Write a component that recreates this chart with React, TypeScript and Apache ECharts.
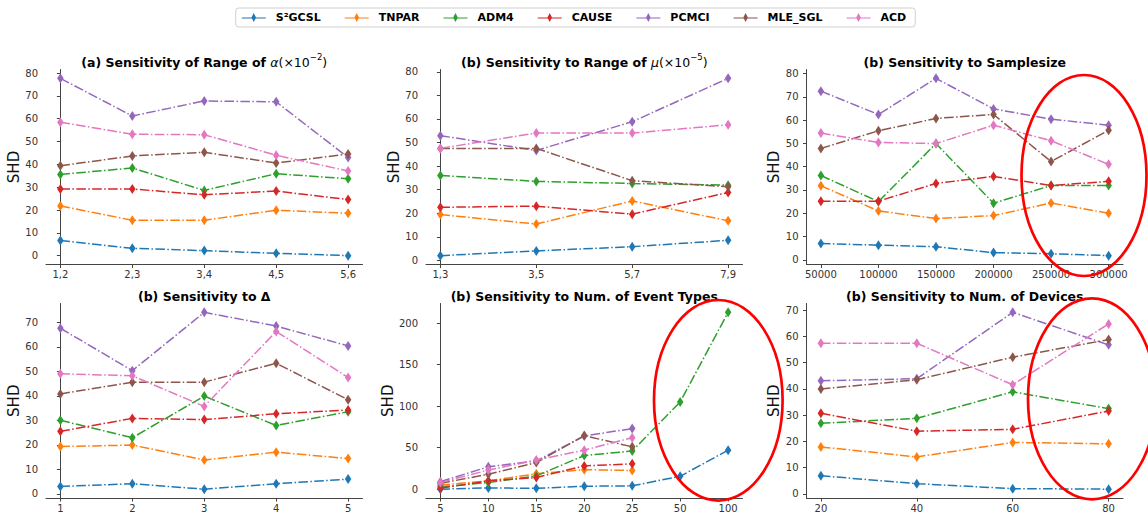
import React, { useEffect, useRef } from "react";
import * as echarts from "echarts";

const FONT = "DejaVu Sans";
const METHODS = ["S²GCSL", "TNPAR", "ADM4", "CAUSE", "PCMCI", "MLE_SGL", "ACD"];
const COLORS = ["#1f77b4", "#ff7f0e", "#2ca02c", "#d62728", "#9467bd", "#8c564b", "#e377c2"];

// (a) Range of alpha
const alphaLabels = ["1,2", "2,3", "3,4", "4,5", "5,6"];
const alphaS2GCSL = [6.6, 3.2, 2.2, 1.0, 0];
const alphaTNPAR = [21.8, 15.5, 15.5, 19.9, 18.6];
const alphaADM4 = [35.6, 38.4, 28.6, 35.9, 33.7];
const alphaCAUSE = [29.2, 29.2, 26.7, 28.3, 24.6];
const alphaPCMCI = [77.7, 61.2, 67.8, 67.4, 43.0];
const alphaMLE = [39.4, 43.7, 45.3, 40.6, 44.5];
const alphaACD = [58.5, 53.2, 53.0, 44.0, 37.1];

// (b) Range of mu
const muLabels = ["1,3", "3,5", "5,7", "7,9"];
const muS2GCSL = [2.0, 4.0, 5.8, 8.5];
const muTNPAR = [19.4, 15.4, 25.2, 16.8];
const muADM4 = [36.0, 33.5, 32.6, 31.9];
const muCAUSE = [22.5, 23.0, 19.6, 28.8];
const muPCMCI = [52.9, 46.6, 58.8, 77.2];
const muMLE = [47.5, 47.5, 33.8, 31.2];
const muACD = [47.5, 54.0, 54.0, 57.5];

// (b) Samplesize
const sampleSizes = [50000, 100000, 150000, 200000, 250000, 300000];
const ssS2GCSL = [7.0, 6.3, 5.6, 3.1, 2.6, 1.8];
const ssTNPAR = [31.8, 21.0, 17.7, 19.0, 24.4, 20.0];
const ssADM4 = [36.2, 25.0, 49.9, 24.3, 31.9, 31.9];
const ssCAUSE = [25.2, 25.2, 32.8, 35.8, 31.9, 33.7];
const ssPCMCI = [72.4, 62.4, 77.9, 64.8, 60.4, 57.8];
const ssMLE = [47.8, 55.4, 60.7, 62.4, 42.2, 55.6];
const ssACD = [54.4, 50.4, 49.9, 57.8, 51.1, 41.0];

// (b) Delta
const deltaLabels = ["1", "2", "3", "4", "5"];
const dS2GCSL = [3.0, 4.1, 1.9, 4.1, 6.0];
const dTNPAR = [19.3, 19.9, 13.8, 17.0, 14.4];
const dADM4 = [30.0, 22.9, 39.9, 27.9, 33.5];
const dCAUSE = [25.5, 30.8, 30.3, 32.7, 34.2];
const dPCMCI = [67.6, 50.3, 74.1, 68.5, 60.4];
const dMLE = [40.8, 45.6, 45.6, 53.3, 38.4];
const dACD = [49.0, 48.2, 35.7, 66.3, 47.5];

// (b) Num. of Event Types
const eventLabels = ["5", "10", "15", "20", "25", "50", "100"];
const evS2GCSL = [0, 1.5, 1, 3.5, 4, 15.5, 47];
const evTNPAR = [5, 10, 18.5, 23.5, 22.5, null, null];
const evADM4 = [2.8, 8, 16, 40.5, 46, 105, 213];
const evCAUSE = [1, 10, 14, 28, 30.5, null, null];
const evPCMCI = [9, 27, 34, 64, 73, null, null];
const evMLE = [7, 18, 32, 64.5, 51, null, null];
const evACD = [8, 23, 35, 47, 62, null, null];

// (b) Num. of Devices
const devices = [20, 40, 60, 80];
const dvS2GCSL = [6.9, 3.9, 2.0, 1.8];
const dvTNPAR = [17.9, 14.1, 19.6, 19.1];
const dvADM4 = [26.9, 28.8, 38.9, 32.5];
const dvCAUSE = [30.7, 23.9, 24.6, 31.6];
const dvPCMCI = [43.1, 43.9, 69.2, 56.8];
const dvMLE = [40.0, 43.5, 52.1, 58.8];
const dvACD = [57.4, 57.4, 41.6, 64.8];

const ticks80 = [0, 10, 20, 30, 40, 50, 60, 70, 80];
const ticks70 = [0, 10, 20, 30, 40, 50, 60, 70];
const ticks200 = [0, 50, 100, 150, 200];

const TITLES = [
  "{b|(a) Sensitivity of Range of }{i|α}{r|(×10}{s|−2}{r|)}",
  "{b|(b) Sensitivity to Range of }{i|μ}{r|(×10}{s|−5}{r|)}",
  "{b|(b) Sensitivity to Samplesize}",
  "{b|(b) Sensitivity to Δ}",
  "{b|(b) Sensitivity to Num. of Event Types}",
  "{b|(b) Sensitivity to Num. of Devices}",
];

type Panel = {
  xValues: number[];
  xLabels: string[];
  series: (number | null)[][];
  yTicks: number[];
};

const idx = (a: string[]) => a.map((_, i) => i);

const PANELS: Panel[] = [
  { xValues: idx(alphaLabels), xLabels: alphaLabels, series: [alphaS2GCSL, alphaTNPAR, alphaADM4, alphaCAUSE, alphaPCMCI, alphaMLE, alphaACD], yTicks: ticks80 },
  { xValues: idx(muLabels), xLabels: muLabels, series: [muS2GCSL, muTNPAR, muADM4, muCAUSE, muPCMCI, muMLE, muACD], yTicks: ticks80 },
  { xValues: sampleSizes, xLabels: sampleSizes.map(String), series: [ssS2GCSL, ssTNPAR, ssADM4, ssCAUSE, ssPCMCI, ssMLE, ssACD], yTicks: ticks80 },
  { xValues: idx(deltaLabels), xLabels: deltaLabels, series: [dS2GCSL, dTNPAR, dADM4, dCAUSE, dPCMCI, dMLE, dACD], yTicks: ticks70 },
  { xValues: idx(eventLabels), xLabels: eventLabels, series: [evS2GCSL, evTNPAR, evADM4, evCAUSE, evPCMCI, evMLE, evACD], yTicks: ticks200 },
  { xValues: devices, xLabels: devices.map(String), series: [dvS2GCSL, dvTNPAR, dvADM4, dvCAUSE, dvPCMCI, dvMLE, dvACD], yTicks: ticks70 },
];

const COL_LEFT = [46, 426, 806.5];
const GRID_W = 316.5;
const ROW_TOP = [69.5, 303.5];
const ROW_H = [195, 194.5];

const LEGEND_ICON = "path://M0,4.4H24V5.6H0Z M12,0L14.3,4.5L12,9L9.7,4.5Z";

function buildOption() {
  const grids: any[] = [];
  const xAxes: any[] = [];
  const yAxes: any[] = [];
  const titles: any[] = [];
  const series: any[] = [];
  const axisColor = "#444";

  PANELS.forEach((p, i) => {
    const col = i % 3;
    const row = Math.floor(i / 3);
    grids.push({ left: COL_LEFT[col], top: ROW_TOP[row], width: GRID_W, height: ROW_H[row], containLabel: false });

    const xmin0 = Math.min(...p.xValues);
    const xmax0 = Math.max(...p.xValues);
    const xr = xmax0 - xmin0;
    const all: number[] = [];
    p.series.forEach((s) => s.forEach((v) => { if (v !== null) all.push(v); }));
    const ymin0 = Math.min(...all);
    const ymax0 = Math.max(...all);
    const yr = ymax0 - ymin0;

    xAxes.push({
      type: "value",
      gridIndex: i,
      min: xmin0 - 0.05 * xr,
      max: xmax0 + 0.05 * xr,
      axisLine: { show: true, onZero: false, lineStyle: { color: axisColor, width: 1 } },
      axisTick: { show: true, length: 3.5, customValues: p.xValues, lineStyle: { color: axisColor } },
      axisLabel: {
        customValues: p.xValues,
        formatter: (v: number) => {
          const k = p.xValues.findIndex((x) => Math.abs(x - v) < 1e-6);
          return k >= 0 ? p.xLabels[k] : "";
        },
        fontSize: 10,
        fontFamily: FONT,
        color: "#333",
        margin: 5,
      },
      splitLine: { show: false },
    });

    yAxes.push({
      type: "value",
      gridIndex: i,
      min: ymin0 - 0.05 * yr,
      max: ymax0 + 0.05 * yr,
      name: "SHD",
      nameLocation: "middle",
      nameGap: 22,
      nameTextStyle: { fontSize: 15, fontFamily: FONT, color: "#111" },
      axisLine: { show: true, lineStyle: { color: axisColor, width: 1 } },
      axisTick: { show: true, length: 3.5, customValues: p.yTicks, lineStyle: { color: axisColor } },
      axisLabel: { customValues: p.yTicks, fontSize: 10, fontFamily: FONT, color: "#333", margin: 8 },
      splitLine: { show: false },
    });

    titles.push({
      text: TITLES[i],
      left: COL_LEFT[col] + GRID_W / 2,
      top: row === 0 ? 52.5 : 286.5,
      textAlign: "center",
      padding: 0,
      textStyle: {
        fontFamily: FONT,
        fontSize: 12.5,
        color: "#000",
        rich: {
          b: { fontFamily: FONT, fontSize: 12.5, fontWeight: "bold", color: "#000", verticalAlign: "bottom", lineHeight: 16 },
          i: { fontFamily: FONT, fontSize: 12.5, fontStyle: "italic", fontWeight: "normal", color: "#000", verticalAlign: "bottom", lineHeight: 16 },
          r: { fontFamily: FONT, fontSize: 12.5, fontWeight: "normal", color: "#000", verticalAlign: "bottom", lineHeight: 16 },
          s: { fontFamily: FONT, fontSize: 8.5, fontWeight: "normal", color: "#000", verticalAlign: "top", lineHeight: 10 },
        },
      },
    });

    p.series.forEach((vals, m) => {
      const data: number[][] = [];
      vals.forEach((v, k) => { if (v !== null) data.push([p.xValues[k], v]); });
      series.push({
        type: "line",
        name: METHODS[m],
        xAxisIndex: i,
        yAxisIndex: i,
        data,
        symbol: "diamond",
        symbolSize: [6.5, 10],
        showSymbol: true,
        lineStyle: { color: COLORS[m], width: 1.5, type: [9.6, 2.4, 1.5, 2.4] },
        itemStyle: { color: COLORS[m], borderWidth: 0 },
        emphasis: { disabled: true },
        silent: true,
      });
    });
  });

  const ellipses = [
    { cx: 1084, cy: 175.5, rx: 62.5, ry: 100.5 },
    { cx: 718.3, cy: 400.3, rx: 64.3, ry: 100.3 },
    { cx: 1092, cy: 398.8, rx: 64, ry: 100.5 },
  ];

  return {
    animation: false,
    backgroundColor: "#fff",
    title: titles,
    legend: {
      data: METHODS.map((name) => ({ name, icon: LEGEND_ICON })),
      left: "center",
      top: 8,
      itemWidth: 24,
      itemHeight: 9,
      itemGap: 24,
      padding: [4, 9, 4, 6],
      borderColor: "#d0d0d0",
      borderWidth: 1,
      borderRadius: 3,
      selectedMode: false,
      itemStyle: { borderWidth: 0 },
      textStyle: { fontFamily: FONT, fontSize: 11, fontWeight: "bold", color: "#000", padding: [0, 0, 0, 5] },
    },
    grid: grids,
    xAxis: xAxes,
    yAxis: yAxes,
    series,
    graphic: ellipses.map((e) => ({
      type: "ellipse",
      shape: e,
      style: { fill: "none", stroke: "#ff0000", lineWidth: 2.7 },
      z: 100,
      silent: true,
    })),
  };
}

export default function App() {
  const ref = useRef<HTMLDivElement>(null);
  useEffect(() => {
    const chart = echarts.init(ref.current!, null, { renderer: "svg" });
    chart.setOption(buildOption() as any);
    return () => chart.dispose();
  }, []);
  return (
    <div
      ref={ref}
      style={{ position: "fixed", left: 0, top: 0, width: 1148, height: 513, background: "#fff" }}
    />
  );
}
